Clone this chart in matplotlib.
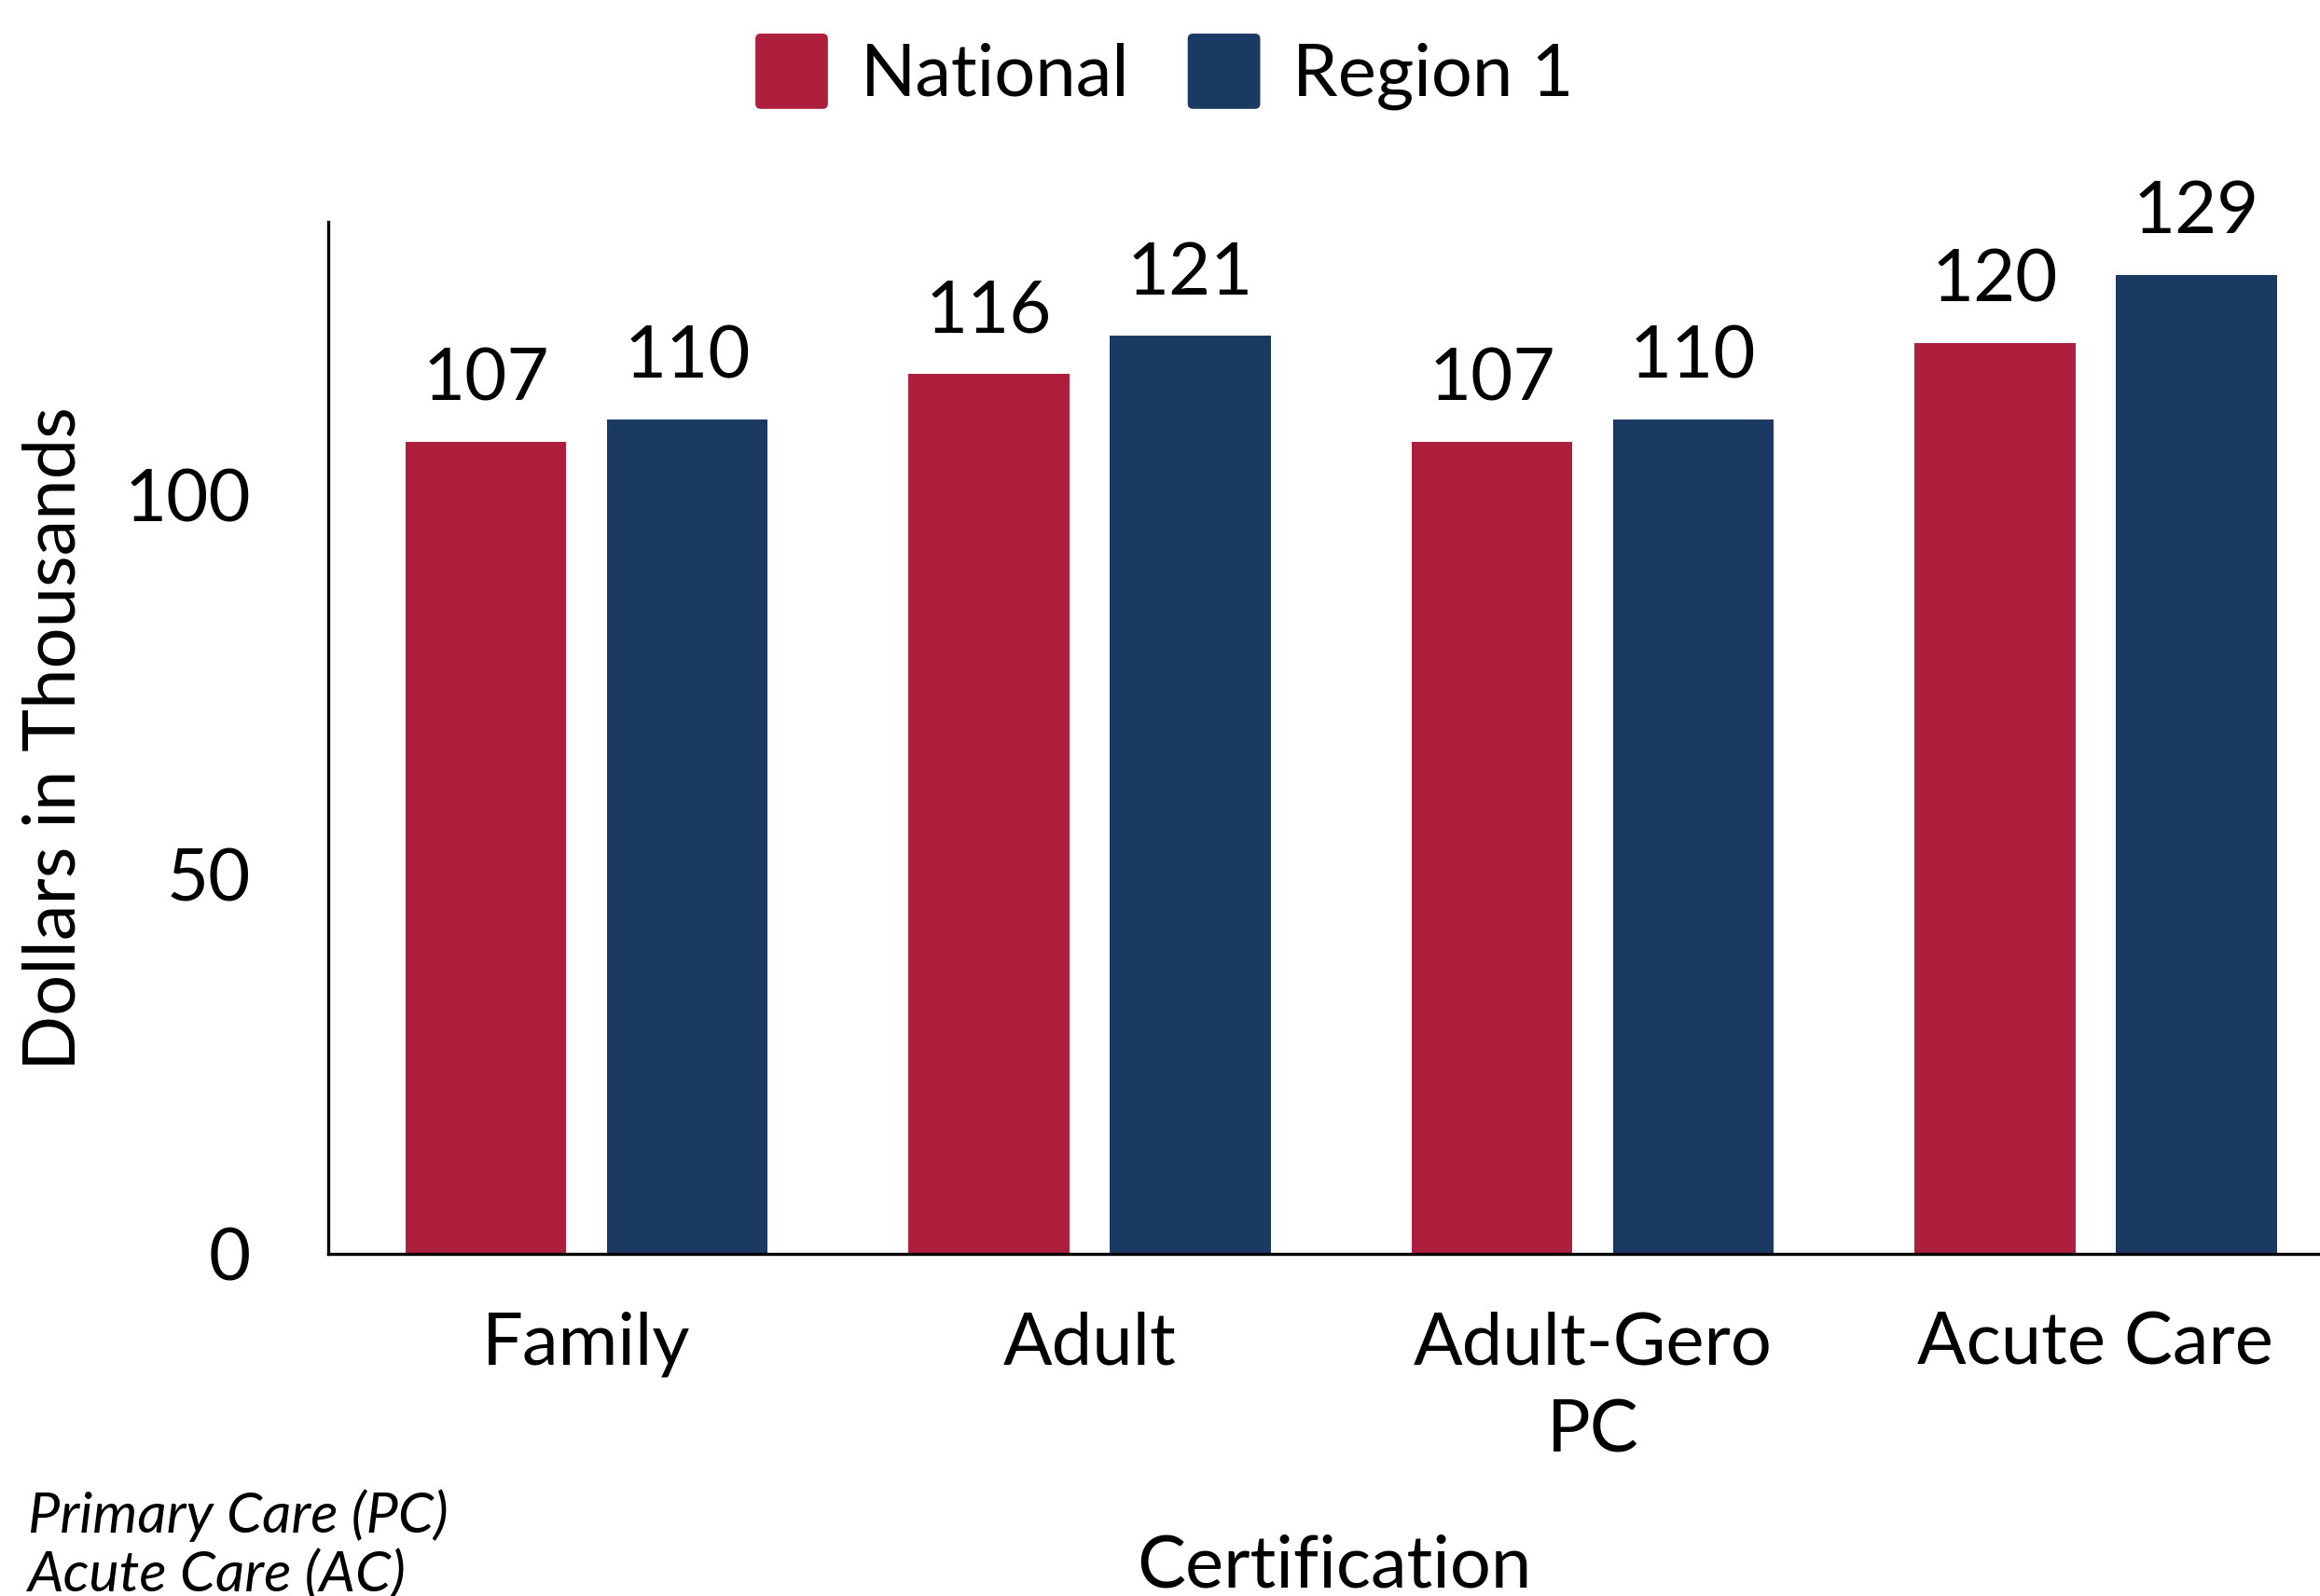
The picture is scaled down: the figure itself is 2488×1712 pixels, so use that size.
import numpy as np
import matplotlib
matplotlib.use("Agg")
import matplotlib.pyplot as plt
from matplotlib.patches import FancyBboxPatch
from matplotlib.legend_handler import HandlerPatch

# data
categories = ["Family", "Adult", "Adult-Gero\nPC", "Acute Care"]
national = [107, 116, 107, 120]
region1 = [110, 121, 110, 129]
series_names = ["National", "Region 1"]
yticks = [0, 50, 100]

red = "#AE1F3D"
blue = "#1B3A63"

plt.rcParams["font.family"] = ["Lato", "DejaVu Sans"]


class RoundHandler(HandlerPatch):
    # legend swatch with slightly rounded corners
    def create_artists(self, legend, orig, xdescent, ydescent, width, height, fontsize, trans):
        p = FancyBboxPatch((-xdescent, -ydescent), width, height,
                           boxstyle="round,pad=0,rounding_size=2",
                           facecolor=orig.get_facecolor(), edgecolor="none")
        p.set_transform(trans)
        return [p]


fig = plt.figure(figsize=(12.44, 8.56), dpi=200)
ax = fig.add_axes([0.1416, 0.2141, 0.8584, 0.6469])

x = np.arange(len(categories))
w = 0.32
b1 = ax.bar(x - 0.2, national, w, color=red, label=series_names[0])
b2 = ax.bar(x + 0.2, region1, w, color=blue, label=series_names[1])

# value labels above bars
for bars, vals in [(b1, national), (b2, region1)]:
    for rect, v in zip(bars, vals):
        ax.annotate(str(v), (rect.get_x() + rect.get_width() / 2, rect.get_height()),
                    xytext=(0, 11), textcoords="offset points",
                    ha="center", va="bottom", fontsize=28)

ax.set_xlim(-0.513, 3.446)
ax.set_ylim(0, 136)
ax.set_xticks(x)
ax.set_xticklabels(categories, fontsize=28, linespacing=1.4)
ax.set_yticks(yticks)
ax.tick_params(axis="y", length=0, pad=30, labelsize=28)
ax.tick_params(axis="x", length=0, pad=22)

for s in ["top", "right"]:
    ax.spines[s].set_visible(False)
ax.spines["left"].set_linewidth(1.2)
ax.spines["bottom"].set_linewidth(1.2)

ax.set_ylabel("Dollars in Thousands", fontsize=28, labelpad=14)
ax.set_xlabel("Certification", fontsize=28)
ax.xaxis.set_label_coords(0.505, -0.322)
ax.xaxis.label.set_va("baseline")

leg = fig.legend(handles=[b1[0], b2[0]], labels=series_names, loc="center",
                 bbox_to_anchor=(0.502, 0.955), ncol=2, frameon=False,
                 fontsize=28, handlelength=1.0, handleheight=1.22,
                 handletextpad=0.45, columnspacing=0.8,
                 handler_map={b1[0]: RoundHandler(), b2[0]: RoundHandler()})

fig.text(0.012, 0.040, "Primary Care (PC)", fontsize=22, style="italic")
fig.text(0.012, 0.003, "Acute Care (AC)", fontsize=22, style="italic")

fig.savefig("out.png", dpi=200)
